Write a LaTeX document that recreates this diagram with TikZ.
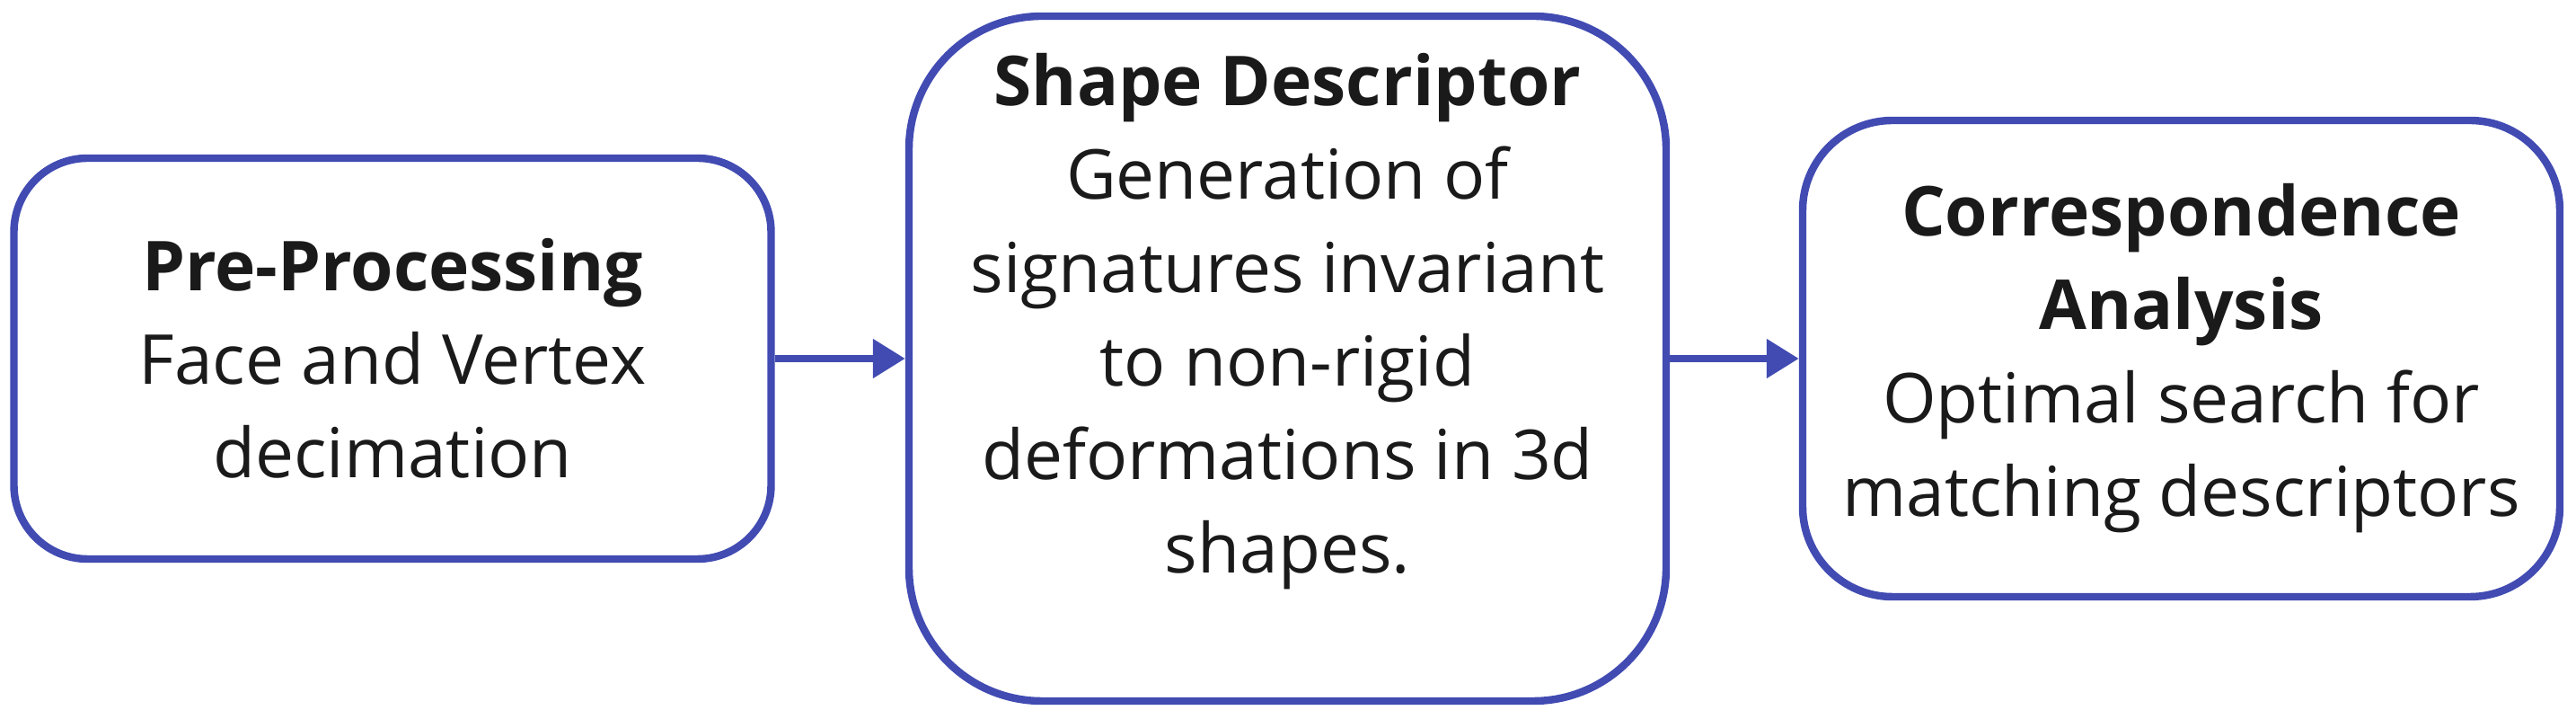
\documentclass[tikz,border=0pt]{standalone}
\usepackage{fontspec}
\setmainfont{Open Sans}
\usetikzlibrary{arrows.meta}
\definecolor{boxblue}{RGB}{65,75,178}
\definecolor{txt}{RGB}{26,26,26}

\begin{document}
\begin{tikzpicture}
	[
		B/.style = {rectangle, align=center, draw=boxblue, line width=2.4pt, fill=white, text=txt, minimum width=8.43cm, font=\fontsize{21.8}{29.6}\selectfont},
		T/.style = {rectangle, align=center, draw=none, fill=none, text=txt, font=\fontsize{21.8}{29.6}\selectfont},
		A/.style = {draw=boxblue, line width=2.3pt, -{Triangle[length=0.36cm, width=0.42cm]}},
	]
	\useasboundingbox (0,0) rectangle (28.68,8.00);

	% process steps
	\node[B, minimum height=4.46cm, rounded corners=0.82cm] (b1) 	at ( 4.37, 4.01 ) {\textbf{Pre-Processing}\\Face and Vertex\\decimation};
	\node[B, minimum height=7.62cm, rounded corners=1.48cm] (b2) 	at (14.335, 4.01 ) {};
	\node[B, minimum height=5.30cm, rounded corners=1.00cm] (b3) 	at (24.285, 4.01 ) {\textbf{Correspondence}\\\textbf{Analysis}\\Optimal search for\\matching descriptors};

	% text of the middle step
	\node[T] (t2) 	at (14.335, 4.42 ) {\textbf{Shape Descriptor}\\Generation of\\signatures invariant\\to non-rigid\\deformations in 3d\\shapes.};

	\foreach \from/\to in {b1/b2,b2/b3}
	\draw[A] (\from) -- (\to);

\end{tikzpicture}
\end{document}
